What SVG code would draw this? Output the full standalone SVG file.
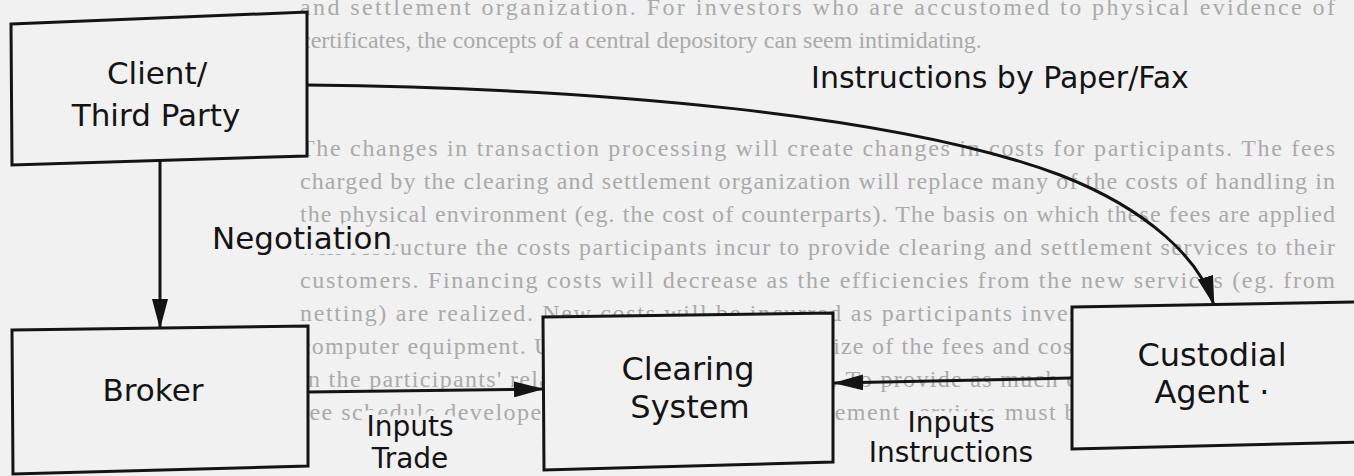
<svg xmlns="http://www.w3.org/2000/svg" width="1354" height="476" viewBox="0 0 1354 476">
  <defs>
    <marker id="head" viewBox="0 0 30 16" refX="29" refY="8" markerWidth="30" markerHeight="16" markerUnits="userSpaceOnUse" orient="auto">
      <path d="M0,0 L30,8 L0,16 Z" fill="#141414"/>
    </marker>
    <style>
      .page { fill: #f1f1f1; }
      .para { font-family: "Liberation Serif", "Times New Roman", serif; font-size: 24px; fill: #aaaaaa; }
      .box { fill: #f1f1f1; stroke: #141414; stroke-width: 3; stroke-linejoin: miter; }
      .wire { fill: none; stroke: #141414; stroke-width: 3; }
      .lbl { font-family: "DejaVu Sans", "Liberation Sans", sans-serif; fill: #141414; }
      .halo { stroke: #f1f1f1; stroke-width: 10; stroke-linejoin: round; paint-order: stroke; }
      .mid { text-anchor: middle; }
    </style>
  </defs>

  <rect class="page" x="0" y="0" width="1354" height="476"/>

  <!-- page text printed behind the figure -->
  <g id="page-text" class="para">
    <text x="300" y="15" textLength="1035" lengthAdjust="spacing">and settlement organization. For investors who are accustomed to physical evidence of</text>
    <text x="300" y="48">certificates, the concepts of a central depository can seem intimidating.</text>
    <text x="300" y="156" textLength="1035" lengthAdjust="spacing">The changes in transaction processing will create changes in costs for participants. The fees</text>
    <text x="300" y="189" textLength="1035" lengthAdjust="spacing">charged by the clearing and settlement organization will replace many of the costs of handling in</text>
    <text x="300" y="222" textLength="1035" lengthAdjust="spacing">the physical environment (eg. the cost of counterparts). The basis on which these fees are applied</text>
    <text x="300" y="255" textLength="1035" lengthAdjust="spacing">will restructure the costs participants incur to provide clearing and settlement services to their</text>
    <text x="300" y="288" textLength="1035" lengthAdjust="spacing">customers. Financing costs will decrease as the efficiencies from the new services (eg. from</text>
    <text x="300" y="321" textLength="1035" lengthAdjust="spacing">netting) are realized. New costs will be incurred as participants invest in more sophisticated</text>
    <text x="300" y="354" textLength="1035" lengthAdjust="spacing">computer equipment. Uncertainty about the real size of the fees and costs can create uncertainty</text>
    <text x="300" y="387" textLength="1035" lengthAdjust="spacing">in the participants' relationship with their clients. To provide as much certainty as possible, the</text>
    <text x="300" y="420" textLength="1035" lengthAdjust="spacing">fee schedule developed for the clearing and settlement services must be as simple as possible.</text>
  </g>

  <!-- connectors and their labels -->
  <g id="connectors">
    <path class="wire" d="M307,85 C600,88 900,115 1060,175 C1150,210 1200,260 1214,305" marker-end="url(#head)"/>
    <path class="wire" d="M160,161 L160,328" marker-end="url(#head)"/>
    <path class="wire" d="M308,392 L543,389" marker-end="url(#head)"/>
    <path class="wire" d="M1072,378 L834,383" marker-end="url(#head)"/>
    <text class="lbl halo mid" x="1000" y="88" font-size="30">Instructions by Paper/Fax</text>
    <text class="lbl halo" x="212" y="249" font-size="31">Negotiation</text>
    <text class="lbl halo mid" x="410" y="436" font-size="28">Inputs</text>
    <text class="lbl halo mid" x="410" y="468" font-size="28">Trade</text>
    <text class="lbl halo mid" x="951" y="432" font-size="28">Inputs</text>
    <text class="lbl halo mid" x="951" y="462" font-size="28">Instructions</text>
  </g>

  <g id="client">
    <path class="box" d="M11,24 L307,12 L307,156 L12,165 Z"/>
    <text class="lbl mid" x="157" y="84" font-size="31">Client/</text>
    <text class="lbl mid" x="156" y="126" font-size="31">Third Party</text>
  </g>

  <g id="broker">
    <path class="box" d="M12,330 L308,326 L308,466 L13,474 Z"/>
    <text class="lbl mid" x="153" y="401" font-size="31">Broker</text>
  </g>

  <g id="clearing">
    <path class="box" d="M543,317 L833,313 L833,462 L544,470 Z"/>
    <text class="lbl mid" x="688" y="380" font-size="32">Clearing</text>
    <text class="lbl mid" x="690" y="418" font-size="32">System</text>
  </g>

  <g id="custodial">
    <path class="box" d="M1072,307 L1360,302 L1360,442 L1072,449 Z"/>
    <text class="lbl mid" x="1212" y="366" font-size="32">Custodial</text>
    <text class="lbl mid" x="1212" y="403" font-size="32">Agent ·</text>
  </g>
</svg>
